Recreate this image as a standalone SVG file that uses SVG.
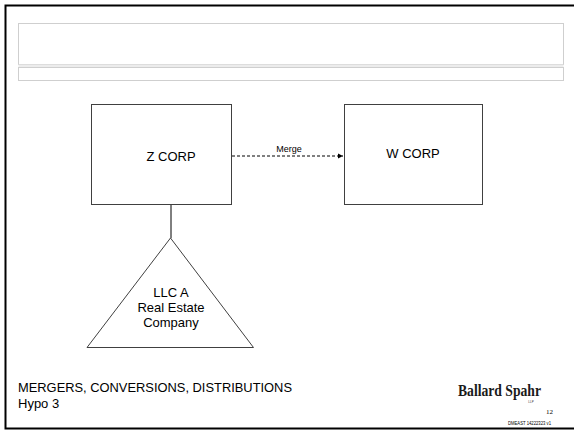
<svg xmlns="http://www.w3.org/2000/svg" width="574" height="432" viewBox="0 0 574 432">
<style>
.box{fill:#fff;stroke:#404040;stroke-width:1}
.hdr{fill:#fff;stroke:#cfcfcf;stroke-width:1}
.t{font-family:"Liberation Sans",Arial,sans-serif;fill:#000}
.c{stroke:#000;stroke-width:1;fill:none}
</style>
<defs>
<marker id="ah" markerWidth="6" markerHeight="6" refX="5" refY="3" orient="auto" markerUnits="userSpaceOnUse">
<path d="M0,0.5 L5,3 L0,5.5 z" fill="#000"/>
</marker>
</defs>
<rect x="0" y="0" width="574" height="432" fill="#fff"/>
<rect x="5.5" y="5.5" width="590" height="423" fill="none" stroke="#000" stroke-width="2"/>
<g id="header">
<rect x="18.5" y="23.5" width="545" height="41" class="hdr"/>
<rect x="18.5" y="64.5" width="545" height="2.5" fill="#ececec" stroke="none"/>
<rect x="18.5" y="67.5" width="545" height="13" class="hdr"/>
</g>
<g id="connectors">
<line x1="171" y1="204" x2="171" y2="238" class="c"/>
<line x1="232" y1="156" x2="343" y2="156" class="c" stroke-dasharray="3,2" marker-end="url(#ah)"/>
<text x="289" y="152" class="t" font-size="9" text-anchor="middle">Merge</text>
</g>
<g id="zcorp">
<rect x="91.5" y="104.5" width="140" height="100" class="box"/>
<text x="171" y="161" class="t" font-size="13" text-anchor="middle">Z CORP</text>
</g>
<g id="wcorp">
<rect x="344.5" y="104.5" width="138" height="100" class="box"/>
<text x="413" y="158" class="t" font-size="13" text-anchor="middle">W CORP</text>
</g>
<g id="llca">
<polygon points="170.5,238 87,347.5 253.5,347.5" class="box"/>
<text x="171" y="297" class="t" font-size="13" text-anchor="middle">LLC A</text>
<text x="171" y="312" class="t" font-size="13" text-anchor="middle">Real Estate</text>
<text x="171" y="327" class="t" font-size="13" text-anchor="middle">Company</text>
</g>
<g id="footer">
<text x="18" y="392" class="t" font-size="13" textLength="274" lengthAdjust="spacingAndGlyphs">MERGERS, CONVERSIONS, DISTRIBUTIONS</text>
<text x="18" y="408" class="t" font-size="13">Hypo 3</text>
<text x="458" y="396" font-family="Liberation Serif,'Times New Roman',serif" font-weight="bold" font-size="16" textLength="83" lengthAdjust="spacingAndGlyphs" fill="#1a1a1a">Ballard Spahr</text>
<text x="531" y="403" font-family="Liberation Sans,Arial,sans-serif" font-size="3" text-anchor="middle" fill="#333">LLP</text>
<text x="553" y="414" font-family="Liberation Serif,'Times New Roman',serif" font-size="7" text-anchor="end" fill="#000">12</text>
<text x="508" y="424.5" font-family="Liberation Sans,Arial,sans-serif" font-size="4.5" textLength="43" lengthAdjust="spacingAndGlyphs" fill="#000">DMEAST 14222323 v1</text>
</g>
</svg>
